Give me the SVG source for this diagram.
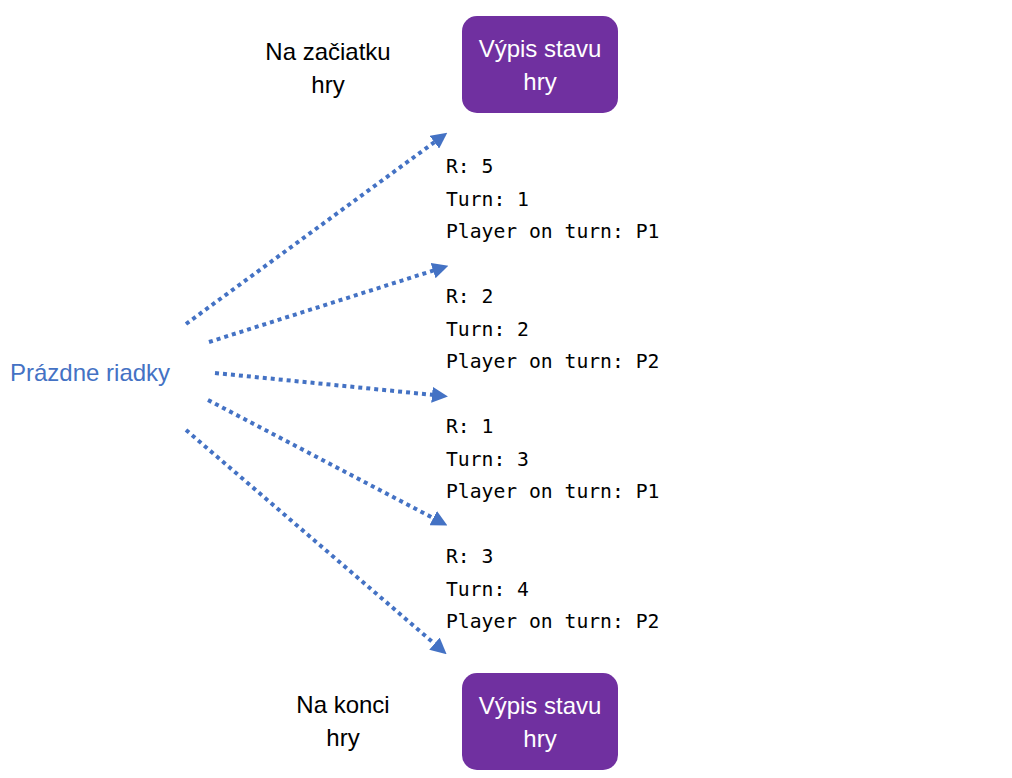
<svg xmlns="http://www.w3.org/2000/svg" width="1012" height="778" viewBox="0 0 1012 778">
<style>
.box{fill:#7030A0}
.bt{fill:#fff;font-family:"Liberation Sans","Open Sans",sans-serif;font-size:24px;text-anchor:middle}
.lbl{fill:#000;font-family:"Liberation Sans","Open Sans",sans-serif;font-size:24px;text-anchor:middle}
.blue{fill:#4472C4;font-family:"Liberation Sans","Open Sans",sans-serif;font-size:24px}
.mono{fill:#000;font-family:"DejaVu Sans Mono","Liberation Mono",monospace;font-size:19.7px}
.conn{stroke:#4472C4;stroke-width:4;stroke-dasharray:4 4;fill:none;marker-end:url(#ah)}
</style>
<defs>
<marker id="ah" markerWidth="4" markerHeight="4" refX="0.5" refY="2" orient="auto" markerUnits="strokeWidth" viewBox="0 0 4 4">
<path d="M0,0 L4,2 L0,4 Z" fill="#4472C4"/>
</marker>
</defs>
<rect width="1012" height="778" fill="#fff"/>
<g id="top-box"><rect class="box" x="462" y="16" width="156" height="97" rx="15"/><text class="bt" x="540" y="57">Výpis stavu</text><text class="bt" x="540" y="90">hry</text></g>
<g id="top-label"><text class="lbl" x="328" y="60">Na začiatku</text><text class="lbl" x="328" y="93">hry</text></g>
<g id="bottom-box"><rect class="box" x="462" y="673" width="156" height="97" rx="15"/><text class="bt" x="540" y="714">Výpis stavu</text><text class="bt" x="540" y="747">hry</text></g>
<g id="bottom-label"><text class="lbl" x="343" y="713">Na konci</text><text class="lbl" x="343" y="746">hry</text></g>
<g id="empty-lines"><text class="blue" x="10" y="381">Prázdne riadky</text></g>
<g id="state1"><text class="mono" x="446" y="173">R: 5</text><text class="mono" x="446" y="206">Turn: 1</text><text class="mono" x="446" y="238">Player on turn: P1</text></g>
<g id="state2"><text class="mono" x="446" y="303">R: 2</text><text class="mono" x="446" y="336">Turn: 2</text><text class="mono" x="446" y="368">Player on turn: P2</text></g>
<g id="state3"><text class="mono" x="446" y="433">R: 1</text><text class="mono" x="446" y="466">Turn: 3</text><text class="mono" x="446" y="498">Player on turn: P1</text></g>
<g id="state4"><text class="mono" x="446" y="563">R: 3</text><text class="mono" x="446" y="596">Turn: 4</text><text class="mono" x="446" y="628">Player on turn: P2</text></g>
<g id="connectors">
<path class="conn" d="M186,324 L436,141"/>
<path class="conn" d="M209,342 L435,270"/>
<path class="conn" d="M215,373 L434,395"/>
<path class="conn" d="M208,400 L435,519"/>
<path class="conn" d="M186,430 L436,645"/>
</g>
</svg>
